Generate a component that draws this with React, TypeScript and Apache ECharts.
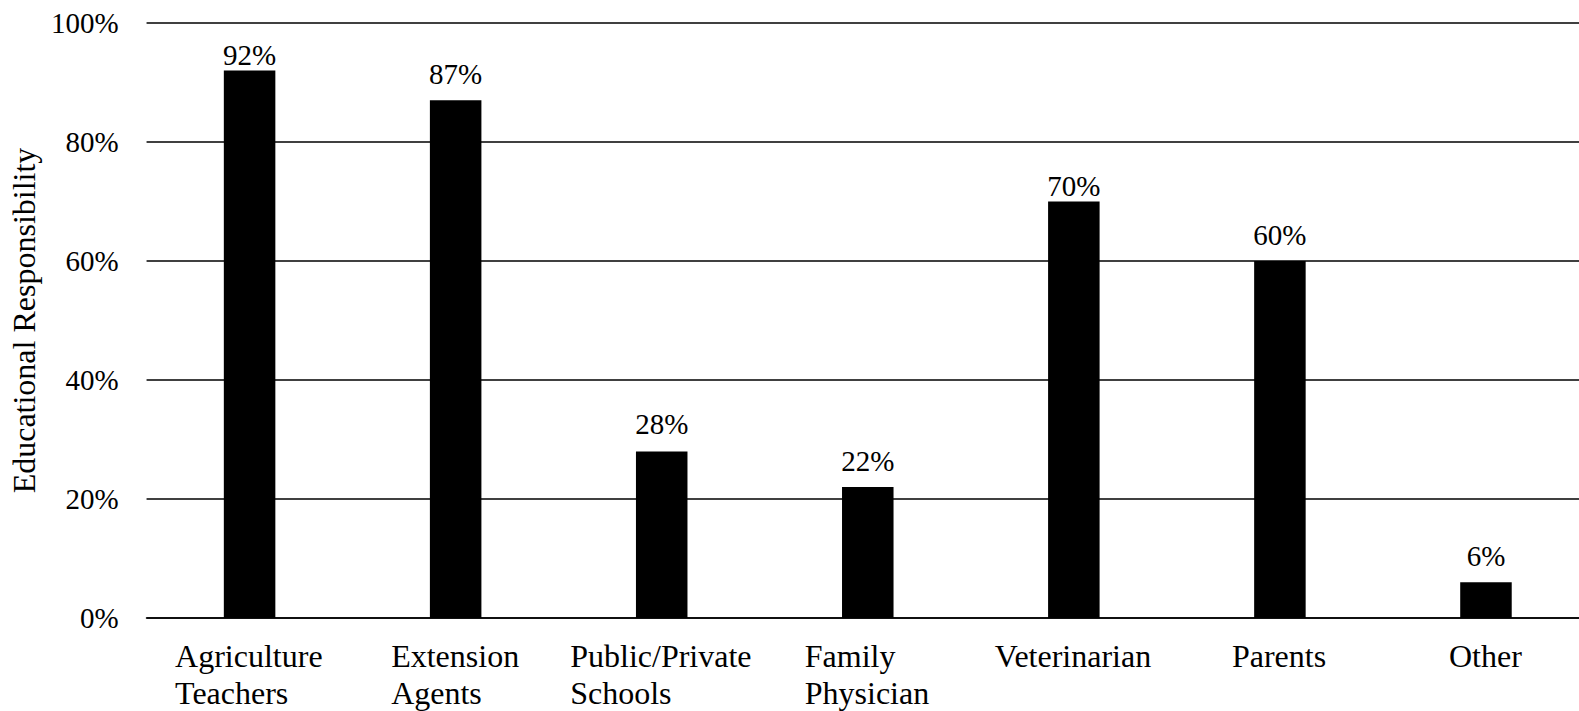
import React, { useEffect, useRef } from "react";
import * as echarts from "echarts";

const categories = [
  "Agriculture\nTeachers",
  "Extension\nAgents",
  "Public/Private\nSchools",
  "Family\nPhysician",
  "Veterinarian",
  "Parents",
  "Other",
];
const values = [92, 87, 28, 22, 70, 60, 6];
// gap between each value label and its bar
const labelGaps = [1, 12, 13, 12, 1, 12, 12];

const FONT = "'Liberation Serif', 'Times New Roman', serif";
const TICK_FS = 29;
const CAT_FS = 32;

function measure(text: string, size: number): number {
  const c = document.createElement("canvas").getContext("2d");
  if (!c) return text.length * size * 0.5;
  c.font = `${size}px ${FONT}`;
  return c.measureText(text).width;
}

export default function App() {
  const ref = useRef<HTMLDivElement>(null);
  useEffect(() => {
    if (!ref.current) return;
    const chart = echarts.init(ref.current, undefined, { renderer: "svg" });
    // one rich style per category so each multi-line label is left-aligned in a centred block
    const rich: Record<string, any> = {};
    categories.forEach((c, i) => {
      const w = Math.max(...c.split("\n").map((l) => measure(l, CAT_FS)));
      rich["c" + i] = {
        width: Math.ceil(w) + 1,
        align: "left",
        fontFamily: FONT,
        fontSize: CAT_FS,
        color: "#000",
        lineHeight: 37,
      };
    });
    chart.setOption({
      animation: false,
      backgroundColor: "#fff",
      grid: { left: 146, right: 0, top: 23, bottom: 93, containLabel: false },
      xAxis: {
        type: "category",
        data: categories,
        axisLine: { show: true, lineStyle: { color: "#000", width: 1.6 } },
        axisTick: { show: false },
        axisLabel: {
          interval: 0,
          margin: 19,
          formatter: (v: string, i: number) =>
            v.split("\n").map((l) => `{c${i}|${l}}`).join("\n"),
          rich,
        },
      },
      yAxis: {
        type: "value",
        min: 0,
        max: 100,
        interval: 20,
        name: "Educational Responsibility",
        nameLocation: "middle",
        nameGap: 99,
        nameTextStyle: { fontFamily: FONT, fontSize: CAT_FS, color: "#000" },
        axisLine: { show: false },
        axisTick: { show: false },
        axisLabel: {
          margin: 28,
          fontFamily: FONT,
          fontSize: TICK_FS,
          color: "#000",
          formatter: (v: number) => `${v}%`,
        },
        splitLine: { show: true, lineStyle: { color: "#000", width: 1.6 } },
      },
      series: [
        {
          type: "bar",
          data: values.map((v, i) => ({
            value: v,
            label: { distance: labelGaps[i] },
          })),
          barWidth: "25%",
          itemStyle: { color: "#000" },
          label: {
            show: true,
            position: "top",
            formatter: (p: any) => `${p.value}%`,
            fontFamily: FONT,
            fontSize: TICK_FS,
            color: "#000",
          },
        },
      ],
    });
    return () => chart.dispose();
  }, []);
  return (
    <div style={{ position: "fixed", left: 0, top: 0, width: 1579, height: 711, overflow: "hidden", background: "#fff" }}>
      <div ref={ref} style={{ width: 1589, height: 711 }} />
    </div>
  );
}
